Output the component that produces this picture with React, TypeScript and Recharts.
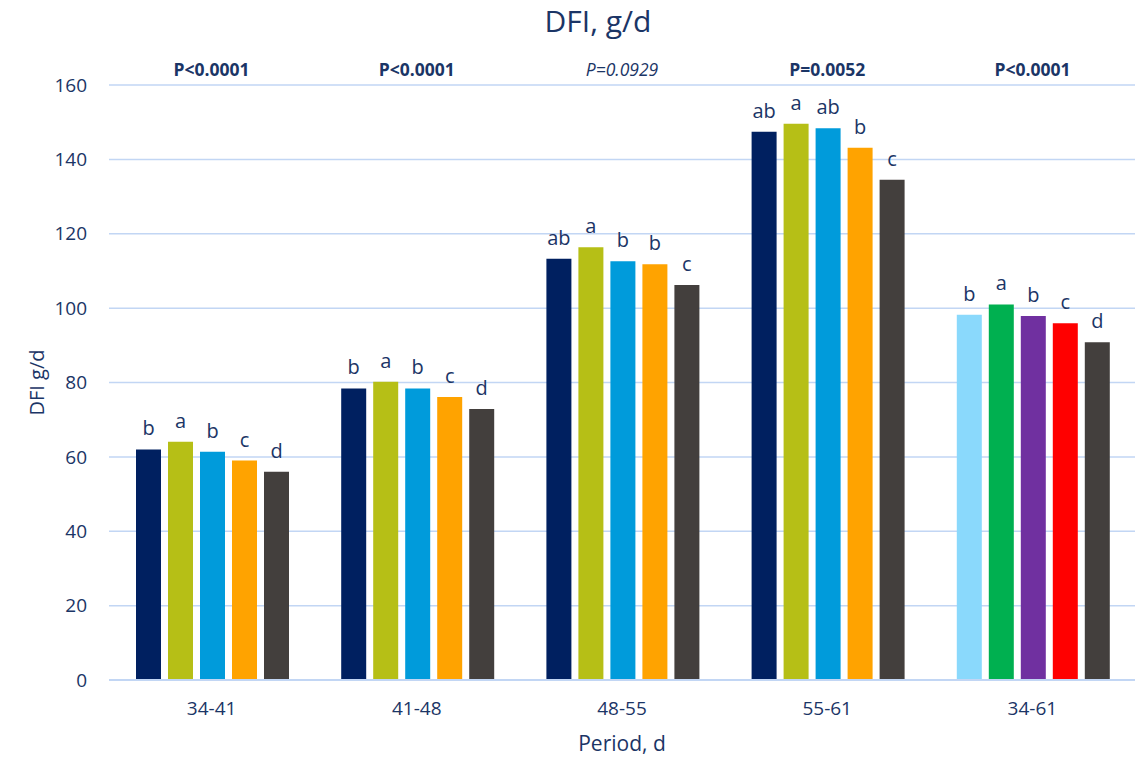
import React from 'react';
import { BarChart, Bar, XAxis, YAxis, CartesianGrid, Cell, LabelList } from 'recharts';

// Periods (days) and per-treatment daily feed intake, g/d
const periods = ['34-41', '41-48', '48-55', '55-61', '34-61'];
const t1 = [62.0, 78.4, 113.3, 147.4, 98.2];
const t2 = [64.1, 80.2, 116.4, 149.6, 101.0];
const t3 = [61.4, 78.4, 112.6, 148.4, 97.9];
const t4 = [59.0, 76.1, 111.8, 143.1, 95.9];
const t5 = [56.0, 72.9, 106.2, 134.5, 90.8];

// Significance letters per treatment, one per period
const l1 = ['b', 'b', 'ab', 'ab', 'b'];
const l2 = ['a', 'a', 'a', 'a', 'a'];
const l3 = ['b', 'b', 'b', 'ab', 'b'];
const l4 = ['c', 'c', 'b', 'b', 'c'];
const l5 = ['d', 'd', 'c', 'c', 'd'];

// P-values per period; non-significant values are shown in italic
const pValues = ['P<0.0001', 'P<0.0001', 'P=0.0929', 'P=0.0052', 'P<0.0001'];
const pSignificant = [true, true, false, true, true];

const yTicks = [0, 20, 40, 60, 80, 100, 120, 140, 160];

// Colours for the weekly periods and for the whole-period group
const weeklyColors = ['#002060', '#B6BF16', '#009BDB', '#FFA300', '#433F3D'];
const overallColors = ['#8AD9FC', '#00B050', '#7030A0', '#FF0000', '#433F3D'];

const seriesValues = [t1, t2, t3, t4, t5];
const seriesLetters = [l1, l2, l3, l4, l5];

const data = periods.map((period, i) => ({
  period,
  s0: t1[i],
  s1: t2[i],
  s2: t3[i],
  s3: t4[i],
  s4: t5[i],
}));

const NAVY = '#1B3566';
const GRID = '#C2D6F4';
const FONT = '"Open Sans", sans-serif';

const PValueTick = (props: any) => {
  const { x, y, payload } = props;
  const i = payload.index;
  const sig = pSignificant[i];
  return (
    <text
      x={x}
      y={y}
      textAnchor="middle"
      fill={NAVY}
      fontFamily={FONT}
      fontSize={17.5}
      fontWeight={sig ? 700 : 400}
      fontStyle={sig ? 'normal' : 'italic'}
    >
      {pValues[i]}
    </text>
  );
};

const makeLetterLabel = (letters: string[]) => (props: any) => {
  const { x, y, width, index } = props;
  return (
    <text
      x={x + width / 2}
      y={y - 14}
      textAnchor="middle"
      fill={NAVY}
      fontFamily={FONT}
      fontSize={20}
    >
      {letters[index]}
    </text>
  );
};

const YLabel = (props: any) => {
  const { viewBox } = props;
  const cx = 36;
  const cy = viewBox.y + viewBox.height / 2;
  return (
    <text
      x={cx}
      y={cy}
      transform={`rotate(-90, ${cx}, ${cy})`}
      textAnchor="middle"
      dominantBaseline="central"
      fill={NAVY}
      fontFamily={FONT}
      fontSize={20}
    >
      DFI g/d
    </text>
  );
};

export default function App() {
  return (
    <div style={{ position: 'absolute', left: 0, top: 0, width: 1148, height: 760, background: '#fff' }}>
      <div
        style={{
          position: 'absolute',
          left: 398,
          top: 0,
          width: 400,
          textAlign: 'center',
          fontFamily: FONT,
          fontSize: 30,
          color: NAVY,
        }}
      >
        DFI, g/d
      </div>
      <BarChart
        width={1148}
        height={760}
        data={data}
        margin={{ top: 55, right: 13, bottom: 5, left: 39 }}
        barCategoryGap={27}
        barGap={7}
      >
        <CartesianGrid horizontal vertical={false} stroke={GRID} strokeWidth={1.5} />
        <XAxis
          xAxisId="top"
          orientation="top"
          dataKey="period"
          height={30}
          axisLine={false}
          tickLine={false}
          tickSize={0}
          tickMargin={9}
          interval={0}
          tick={<PValueTick />}
        />
        <XAxis
          xAxisId="main"
          dataKey="period"
          height={75}
          axisLine={{ stroke: GRID, strokeWidth: 2 }}
          tickLine={false}
          tickSize={0}
          tickMargin={22}
          interval={0}
          tick={{ fill: NAVY, fontFamily: FONT, fontSize: 19 }}
          label={{
            value: 'Period, d',
            position: 'insideBottom',
            offset: 4,
            fill: NAVY,
            fontFamily: FONT,
            fontSize: 21,
          }}
        />
        <YAxis
          width={70}
          domain={[0, 160]}
          ticks={yTicks}
          axisLine={false}
          tickLine={false}
          tickSize={0}
          tickMargin={22}
          tick={{ fill: NAVY, fontFamily: FONT, fontSize: 19 }}
          label={<YLabel />}
        />
        {seriesValues.map((_, s) => (
          <Bar key={s} xAxisId="main" dataKey={`s${s}`} isAnimationActive={false}>
            {periods.map((p, i) => (
              <Cell key={p} fill={i === periods.length - 1 ? overallColors[s] : weeklyColors[s]} />
            ))}
            <LabelList dataKey={`s${s}`} content={makeLetterLabel(seriesLetters[s])} />
          </Bar>
        ))}
      </BarChart>
    </div>
  );
}
